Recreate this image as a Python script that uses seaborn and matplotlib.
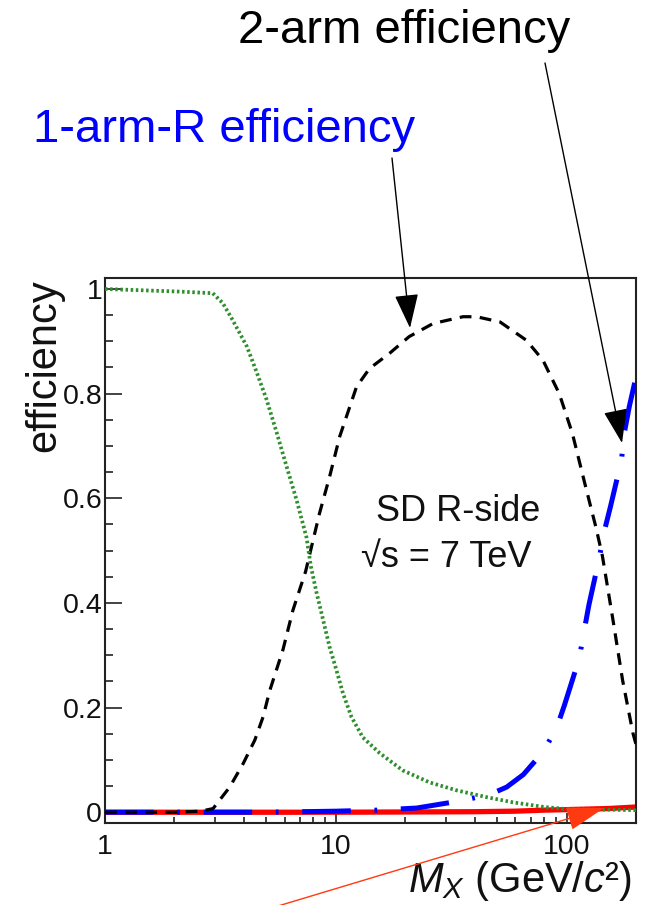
import matplotlib
matplotlib.use("Agg")
import matplotlib.pyplot as plt
import seaborn as sns
import pandas as pd
from matplotlib.patches import FancyArrowPatch
from matplotlib.ticker import FixedLocator, LogLocator, NullFormatter, FuncFormatter

# ---------------- data ----------------
green_x = [1, 2.11, 2.93, 3.24, 3.58, 4.12, 4.55, 5.02, 5.55, 6.13, 6.76, 7.47, 7.8,
           8.26, 8.82, 9.4, 10.06, 10.75, 11.7, 13.1, 15.5, 19.5, 25.5, 33.3, 44.8,
           58.5, 80, 100, 140, 200]
green_y = [1.0, 0.995, 0.992, 0.973, 0.94, 0.89, 0.84, 0.788, 0.725, 0.66, 0.597, 0.525, 0.47,
           0.419, 0.367, 0.316, 0.272, 0.227, 0.182, 0.143, 0.113, 0.080, 0.057, 0.042, 0.029,
           0.019, 0.010, 0.006, 0.005, 0.004]

black_x = [1, 2.0, 2.6, 2.94, 3.47, 3.97, 4.46, 4.84, 5.18, 5.9, 6.52, 7.4, 8.5, 9.4, 10.4,
           11.5, 12.3, 14.0, 17.1, 20.8, 26.4, 31, 35.6, 40.7, 51.5, 67, 79, 93, 106, 121,
           134, 143, 159, 175, 194, 200]
black_y = [0.0, 0.0, 0.002, 0.007, 0.048, 0.093, 0.138, 0.182, 0.233, 0.31, 0.386, 0.46, 0.571,
           0.641, 0.718, 0.775, 0.813, 0.848, 0.877, 0.909, 0.934, 0.941, 0.947, 0.947, 0.937,
           0.902, 0.864, 0.80, 0.724, 0.622, 0.545, 0.49, 0.367, 0.252, 0.151, 0.13]

blue_x = [1, 5, 10, 15, 22.4, 35, 46.5, 55, 65, 79, 90.4, 98, 113.5, 119, 125, 138.5, 145, 155,
          173, 178, 187, 200]
blue_y = [0.0, 0.0, 0.002, 0.004, 0.008, 0.022, 0.034, 0.048, 0.072, 0.115, 0.16, 0.205, 0.294,
          0.345, 0.396, 0.485, 0.533, 0.584, 0.673, 0.725, 0.775, 0.832]

red_x = [1, 10, 40, 60, 80, 100, 150, 200]
red_y = [0.0, 0.0, 0.001, 0.002, 0.004, 0.005, 0.007, 0.01]

y_ticks = [0, 0.2, 0.4, 0.6, 0.8, 1]
x_ticks = [1, 10, 100]

# ---------------- style ----------------
sns.set_theme(style="white")
FONT = ["Liberation Sans", "DejaVu Sans"]
plt.rcParams["font.family"] = FONT
plt.rcParams["mathtext.fontset"] = "custom"
plt.rcParams["mathtext.rm"] = "Liberation Sans"
plt.rcParams["mathtext.it"] = "Liberation Sans:italic"
plt.rcParams["lines.scale_dashes"] = False

W, H = 651, 905
fig = plt.figure(figsize=(W / 100, H / 100), dpi=100)
fig.patch.set_facecolor("white")

def fx(px):
    return px / W

def fy(py):
    return 1 - py / H

ax_left, ax_right, ax_top, ax_bot = 105, 636, 278, 822.7
ax = fig.add_axes([fx(ax_left), fy(ax_bot), (ax_right - ax_left) / W, (ax_bot - ax_top) / H])
ax.set_facecolor("white")

df_red = pd.DataFrame({"x": red_x, "y": red_y})
df_blue = pd.DataFrame({"x": blue_x, "y": blue_y})
df_black = pd.DataFrame({"x": black_x, "y": black_y})
df_green = pd.DataFrame({"x": green_x, "y": green_y})

sns.lineplot(data=df_red, x="x", y="y", ax=ax, color="#ff0000", lw=3.8, zorder=2)
sns.lineplot(data=df_blue, x="x", y="y", ax=ax, color="#0000ff", lw=3.6, zorder=3,
             linestyle=(0, (35, 17, 2, 17)))
sns.lineplot(data=df_black, x="x", y="y", ax=ax, color="black", lw=2.3, zorder=4,
             linestyle=(0, (8.5, 6)))
sns.lineplot(data=df_green, x="x", y="y", ax=ax, color="#2f8f2f", lw=2.7, zorder=5,
             linestyle=(0, (1.8, 1.9)))

ax.set_xscale("log")
ax.set_xlim(1, 200)
ax.set_ylim(-0.02, 1.021)
ax.set_xlabel("")
ax.set_ylabel("")

ax.xaxis.set_major_locator(FixedLocator(x_ticks))
ax.xaxis.set_minor_locator(LogLocator(base=10, subs=range(2, 10)))
ax.xaxis.set_minor_formatter(NullFormatter())
ax.xaxis.set_major_formatter(FuncFormatter(lambda v, p: "%g" % v))
ax.yaxis.set_major_locator(FixedLocator(y_ticks))
ax.yaxis.set_minor_locator(FixedLocator([i * 0.05 for i in range(21)]))
ax.yaxis.set_major_formatter(FuncFormatter(lambda v, p: "%g" % v))

ax.tick_params(axis="both", which="both", direction="in", colors="#222222",
               labelcolor="#111111", labelsize=20.5, top=False, right=False,
               bottom=True, left=True)
ax.tick_params(axis="y", which="major", length=12, width=1.2, pad=2)
ax.tick_params(axis="y", which="minor", length=6, width=1.2)
ax.tick_params(axis="x", which="major", length=7, width=1.2, pad=8)
ax.tick_params(axis="x", which="minor", length=4.5, width=1.2)
for lab in ax.get_xticklabels() + ax.get_yticklabels():
    lab.set_family(FONT)

for sp in ax.spines.values():
    sp.set_color("#222222")
    sp.set_linewidth(1.5)
    sp.set_visible(True)

# ---------------- texts ----------------
fig.text(fx(44), fy(366), "efficiency", rotation=90, ha="center", va="center",
         fontsize=30, color="#111111", family=FONT)
fig.text(fx(631), fy(892), "$M_X$ (GeV/$c$\u00b2)", ha="right", va="baseline",
         fontsize=30, color="#111111", family=FONT)
fig.text(fx(376), fy(521), "SD R-side", ha="left", va="baseline",
         fontsize=26, color="#111111", family=FONT)
fig.text(fx(361), fy(567), "\u221as = 7 TeV", ha="left", va="baseline",
         fontsize=26, color="#111111", family=FONT)
fig.text(fx(238), fy(43), "2-arm efficiency", ha="left", va="baseline",
         fontsize=34, color="black", family=FONT)
fig.text(fx(33), fy(142), "1-arm-R efficiency", ha="left", va="baseline",
         fontsize=34, color="#0000ff", family=FONT)

# ---------------- arrows ----------------
def arrow(p0, p1, color, hl, hw, lw=1.0):
    a = FancyArrowPatch((fx(p0[0]), fy(p0[1])), (fx(p1[0]), fy(p1[1])),
                        transform=fig.transFigure,
                        arrowstyle="-|>,head_length=%g,head_width=%g" % (hl, hw),
                        mutation_scale=1, lw=lw, color=color,
                        shrinkA=0, shrinkB=0, zorder=10)
    fig.add_artist(a)

arrow((392, 158), (410, 328), "black", 21.5, 7.5)
arrow((545, 63), (622, 443), "black", 21.5, 7.5)
arrow((278, 906), (604, 808), "#ff3a10", 24, 7.5)

fig.savefig("out.png", dpi=100, facecolor="white")
